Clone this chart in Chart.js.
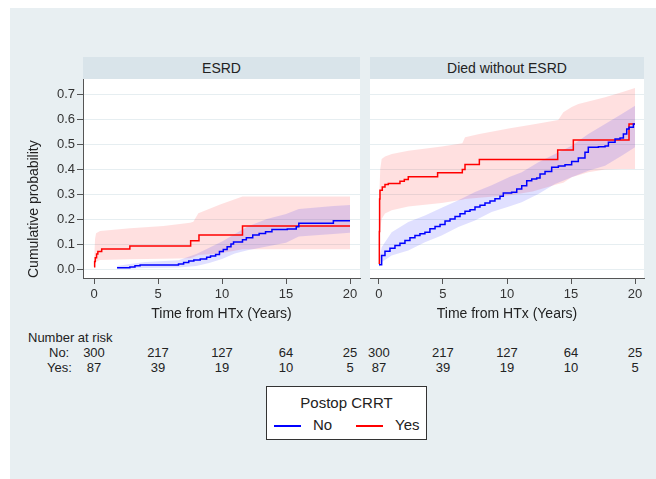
<!DOCTYPE html>
<html>
<head>
<meta charset="utf-8">
<title>Cumulative incidence by postop CRRT</title>
<script src="https://cdn.jsdelivr.net/npm/chart.js@4.4.0/dist/chart.umd.min.js"></script>
<style>
  body { margin: 0; background: #fff; font-family: "Liberation Sans", Arial, sans-serif; color: #222; }
  #bg { position: absolute; left: 10px; top: 8px; width: 646px; height: 471px; background: #e8eff2; }
  .strip { position: absolute; top: 57px; height: 22px; background: #d9e4ea; font-size: 14px; line-height: 22px; text-align: center; }
  canvas { position: absolute; top: 69px; }
  .risk { position: absolute; font-size: 13px; line-height: 16px; white-space: nowrap; }
  #legend { position: absolute; left: 266px; top: 386px; width: 159px; height: 52px; background: #fff; border: 1px solid #333; }
  #legend .ttl { position: absolute; left: 0; width: 159px; top: 7px; text-align: center; font-size: 15px; }
  #legend .item { position: absolute; top: 29px; font-size: 15px; line-height: 18px; }
  #legend .sw { display: inline-block; width: 27px; height: 0; border-top: 2px solid; vertical-align: middle; margin-right: 12px; }
</style>
</head>
<body>
<div id="bg"></div>
<div class="strip" style="left:83px;width:277px">ESRD</div>
<div class="strip" style="left:370px;width:274px">Died without ESRD</div>
<canvas id="c1" width="355" height="260" style="left:10px"></canvas>
<canvas id="c2" width="291" height="260" style="left:365px"></canvas>
<div id="legend">
  <div class="ttl">Postop CRRT</div>
  <div class="item" style="left:7px"><span class="sw" id="swNo"></span><span id="lbNo"></span></div>
  <div class="item" style="left:89px"><span class="sw" id="swYes"></span><span id="lbYes"></span></div>
</div>
<script>
// groups
const groups = ['No', 'Yes'];
const lineColors = ['#0000ff', '#ff0000'];
const bandColors = ['rgba(0,0,255,0.12)', 'rgba(255,0,0,0.12)'];

// axes
const xTicks = [0, 5, 10, 15, 20];
const yTicks = [0, 0.1, 0.2, 0.3, 0.4, 0.5, 0.6, 0.7];

// number at risk
const riskTimes = [0, 5, 10, 15, 20];
const riskNo = [300, 217, 127, 64, 25];
const riskYes = [87, 39, 19, 10, 5];

// ESRD - No
const esrdNoT = [1.8, 2.8, 3.2, 3.6, 6.6, 7.0, 7.4, 7.8, 8.3, 8.8, 9.1, 9.5, 9.8, 10.1, 10.4, 10.7, 10.9, 11.6, 11.9, 12.4, 12.9, 13.4, 13.9, 15.1, 15.8, 16.0, 18.7, 20.0];
const esrdNoY = [0.005, 0.008, 0.013, 0.016, 0.02, 0.026, 0.032, 0.036, 0.04, 0.047, 0.052, 0.058, 0.07, 0.078, 0.089, 0.1, 0.108, 0.117, 0.125, 0.136, 0.142, 0.149, 0.158, 0.16, 0.169, 0.183, 0.193, 0.193];
const esrdNoBandT = [1.8, 2.8, 4.0, 6.6, 8.0, 9.0, 10.0, 11.0, 12.0, 13.5, 15.0, 16.0, 18.7, 20.0];
const esrdNoLo = [0.0, 0.001, 0.004, 0.006, 0.012, 0.024, 0.04, 0.062, 0.075, 0.09, 0.105, 0.13, 0.14, 0.145];
const esrdNoHi = [0.012, 0.02, 0.028, 0.035, 0.06, 0.085, 0.11, 0.14, 0.17, 0.2, 0.22, 0.24, 0.252, 0.256];

// ESRD - Yes
const esrdYesT = [0, 0.05, 0.1, 0.2, 0.3, 0.6, 2.8, 7.55, 8.2, 11.6, 20.0];
const esrdYesY = [0.009, 0.03, 0.045, 0.06, 0.07, 0.08, 0.092, 0.113, 0.136, 0.172, 0.172];
const esrdYesBandT = [0, 0.08, 0.16, 0.47, 2.81, 5.42, 7.5, 7.76, 8.15, 9.85, 11.6, 20.0];
const esrdYesLo = [0.0, 0.02, 0.029, 0.036, 0.039, 0.041, 0.043, 0.047, 0.056, 0.062, 0.079, 0.079];
const esrdYesHi = [0.02, 0.12, 0.143, 0.152, 0.163, 0.172, 0.185, 0.189, 0.223, 0.258, 0.29, 0.29];

// Died without ESRD - No
const diedNoT = [0, 0.21, 0.47, 0.86, 1.25, 1.64, 2.03, 2.42, 2.81, 3.2, 3.59, 3.98, 4.38, 4.77, 5.16, 5.55, 5.94, 6.33, 6.72, 7.11, 7.5, 7.89, 8.28, 8.67, 9.06, 9.45, 9.71, 10.36, 10.76, 11.15, 11.54, 11.93, 12.32, 12.58, 12.97, 13.49, 14.01, 14.53, 15.05, 15.57, 16.09, 16.35, 17.14, 17.66, 17.92, 18.44, 18.83, 19.09, 19.35, 19.53, 19.87, 20.0];
const diedNoY = [0.017, 0.054, 0.071, 0.083, 0.094, 0.103, 0.114, 0.125, 0.134, 0.141, 0.147, 0.161, 0.17, 0.178, 0.192, 0.2, 0.21, 0.221, 0.231, 0.237, 0.248, 0.255, 0.264, 0.272, 0.281, 0.291, 0.304, 0.307, 0.32, 0.333, 0.353, 0.36, 0.364, 0.38, 0.39, 0.407, 0.412, 0.417, 0.43, 0.444, 0.467, 0.487, 0.489, 0.492, 0.507, 0.52, 0.524, 0.54, 0.56, 0.567, 0.58, 0.58];
const diedNoBandT = [0, 0.21, 0.99, 2.29, 3.59, 4.9, 6.2, 7.5, 8.8, 10.23, 11.15, 12.45, 13.75, 15.05, 16.35, 17.66, 18.96, 20.0];
const diedNoLo = [0.007, 0.027, 0.054, 0.074, 0.107, 0.134, 0.168, 0.194, 0.228, 0.251, 0.267, 0.3, 0.34, 0.367, 0.393, 0.413, 0.453, 0.487];
const diedNoHi = [0.027, 0.087, 0.147, 0.188, 0.214, 0.245, 0.275, 0.308, 0.335, 0.369, 0.387, 0.427, 0.46, 0.493, 0.54, 0.58, 0.62, 0.653];

// Died without ESRD - Yes
const diedYesT = [0, 0.03, 0.05, 0.08, 0.26, 0.47, 0.73, 1.64, 1.98, 2.29, 4.58, 6.51, 6.72, 7.84, 13.96, 15.18, 19.53, 20.0];
const diedYesY = [0.02, 0.15, 0.28, 0.315, 0.328, 0.338, 0.342, 0.351, 0.358, 0.369, 0.385, 0.398, 0.418, 0.438, 0.476, 0.516, 0.58, 0.58];
const diedYesBandT = [0, 0.03, 0.1, 0.21, 0.47, 1.0, 2.29, 4.9, 6.51, 6.72, 7.84, 10.23, 12.0, 14.0, 14.4, 15.05, 15.57, 16.35, 17.66, 18.96, 20.0];
const diedYesLo = [0.0, 0.08, 0.16, 0.2, 0.222, 0.235, 0.25, 0.264, 0.277, 0.28, 0.285, 0.295, 0.31, 0.34, 0.345, 0.367, 0.375, 0.387, 0.398, 0.4, 0.4];
const diedYesHi = [0.03, 0.3, 0.4, 0.44, 0.45, 0.46, 0.473, 0.49, 0.503, 0.527, 0.54, 0.563, 0.578, 0.596, 0.627, 0.648, 0.66, 0.67, 0.687, 0.707, 0.724];

function pts(t, y) {
  return t.map((v, i) => ({ x: v, y: y[i] }));
}

// white plot region
const plotBg = {
  id: 'plotBg',
  beforeDraw(chart) {
    const { ctx, chartArea: a } = chart;
    ctx.save();
    ctx.fillStyle = '#fff';
    ctx.fillRect(a.left, a.top, a.right - a.left, a.bottom - a.top);
    ctx.restore();
  }
};

function makeDatasets(noT, noY, noBT, noLo, noHi, yesT, yesY, yesBT, yesLo, yesHi) {
  const band = { pointRadius: 0, borderWidth: 0, tension: 0 };
  return [
    Object.assign({ data: pts(yesBT, yesLo), fill: false, order: 2 }, band),
    Object.assign({ data: pts(yesBT, yesHi), fill: '-1', backgroundColor: bandColors[1], order: 2 }, band),
    Object.assign({ data: pts(noBT, noLo), fill: false, order: 1 }, band),
    Object.assign({ data: pts(noBT, noHi), fill: '-1', backgroundColor: bandColors[0], order: 1 }, band),
    { label: groups[0], data: pts(noT, noY), borderColor: lineColors[0], borderWidth: 1.5, pointRadius: 0, stepped: 'before', fill: false, order: 0 },
    { label: groups[1], data: pts(yesT, yesY), borderColor: lineColors[1], borderWidth: 1.5, pointRadius: 0, stepped: 'before', fill: false, order: 0 }
  ];
}

function makeChart(id, datasets, leftPanel, xmin, xmax, padRight) {
  return new Chart(document.getElementById(id), {
    type: 'line',
    data: { datasets: datasets },
    plugins: [plotBg],
    options: {
      responsive: false,
      animation: false,
      layout: { padding: { left: 0, right: padRight, top: 10, bottom: 0 } },
      plugins: { legend: { display: false }, tooltip: { enabled: false } },
      scales: {
        x: {
          type: 'linear', min: xmin, max: xmax,
          afterBuildTicks: s => { s.ticks = xTicks.map(v => ({ value: v })); },
          afterFit: s => { s.height = 51; },
          grid: { drawOnChartArea: false, tickLength: 6, tickColor: '#555' },
          border: { display: true, color: '#555', width: 1 },
          ticks: { color: '#333', font: { size: 13, family: 'Liberation Sans' }, padding: 3, maxRotation: 0 },
          title: { display: true, text: 'Time from HTx (Years)', color: '#222', font: { size: 14, family: 'Liberation Sans' }, padding: { top: 0, bottom: 6 } }
        },
        y: {
          type: 'linear', min: -0.036, max: 0.76,
          afterBuildTicks: s => { s.ticks = yTicks.map(v => ({ value: v })); },
          afterFit: s => { s.width = leftPanel ? 73 : 5; },
          grid: { color: '#e6eef1', lineWidth: 1, drawTicks: leftPanel, tickLength: 6, tickColor: '#555' },
          border: { display: leftPanel, color: '#555', width: 1 },
          ticks: { display: leftPanel, color: '#333', font: { size: 13, family: 'Liberation Sans' }, padding: 2, callback: v => v.toFixed(1) },
          title: { display: leftPanel, text: 'Cumulative probability', align: 'start', color: '#222', font: { size: 14, family: 'Liberation Sans' }, padding: { top: 16, bottom: 0 } }
        }
      }
    }
  });
}

const ch1 = makeChart('c1', makeDatasets(esrdNoT, esrdNoY, esrdNoBandT, esrdNoLo, esrdNoHi,
  esrdYesT, esrdYesY, esrdYesBandT, esrdYesLo, esrdYesHi), true, -0.86, 20.78, 5);
const ch2 = makeChart('c2', makeDatasets(diedNoT, diedNoY, diedNoBandT, diedNoLo, diedNoHi,
  diedYesT, diedYesY, diedYesBandT, diedYesLo, diedYesHi), false, -0.7, 20.7, 12);

// number at risk table
function addText(text, left, top, align, width) {
  const el = document.createElement('div');
  el.className = 'risk';
  el.textContent = text;
  el.style.left = left + 'px';
  el.style.top = top + 'px';
  if (width) { el.style.width = width + 'px'; el.style.textAlign = align; }
  document.body.appendChild(el);
}
addText('Number at risk', 28, 330);
addText(groups[0] + ':', 49, 345);
addText(groups[1] + ':', 47, 360);
[[ch1, 10], [ch2, 365]].forEach(([ch, off]) => {
  riskTimes.forEach((t, i) => {
    const px = off + ch.scales.x.getPixelForValue(t);
    addText(riskNo[i], px - 20, 345, 'center', 40);
    addText(riskYes[i], px - 20, 360, 'center', 40);
  });
});

// legend
document.getElementById('swNo').style.borderColor = lineColors[0];
document.getElementById('swYes').style.borderColor = lineColors[1];
document.getElementById('lbNo').textContent = groups[0];
document.getElementById('lbYes').textContent = groups[1];
</script>
</body>
</html>
